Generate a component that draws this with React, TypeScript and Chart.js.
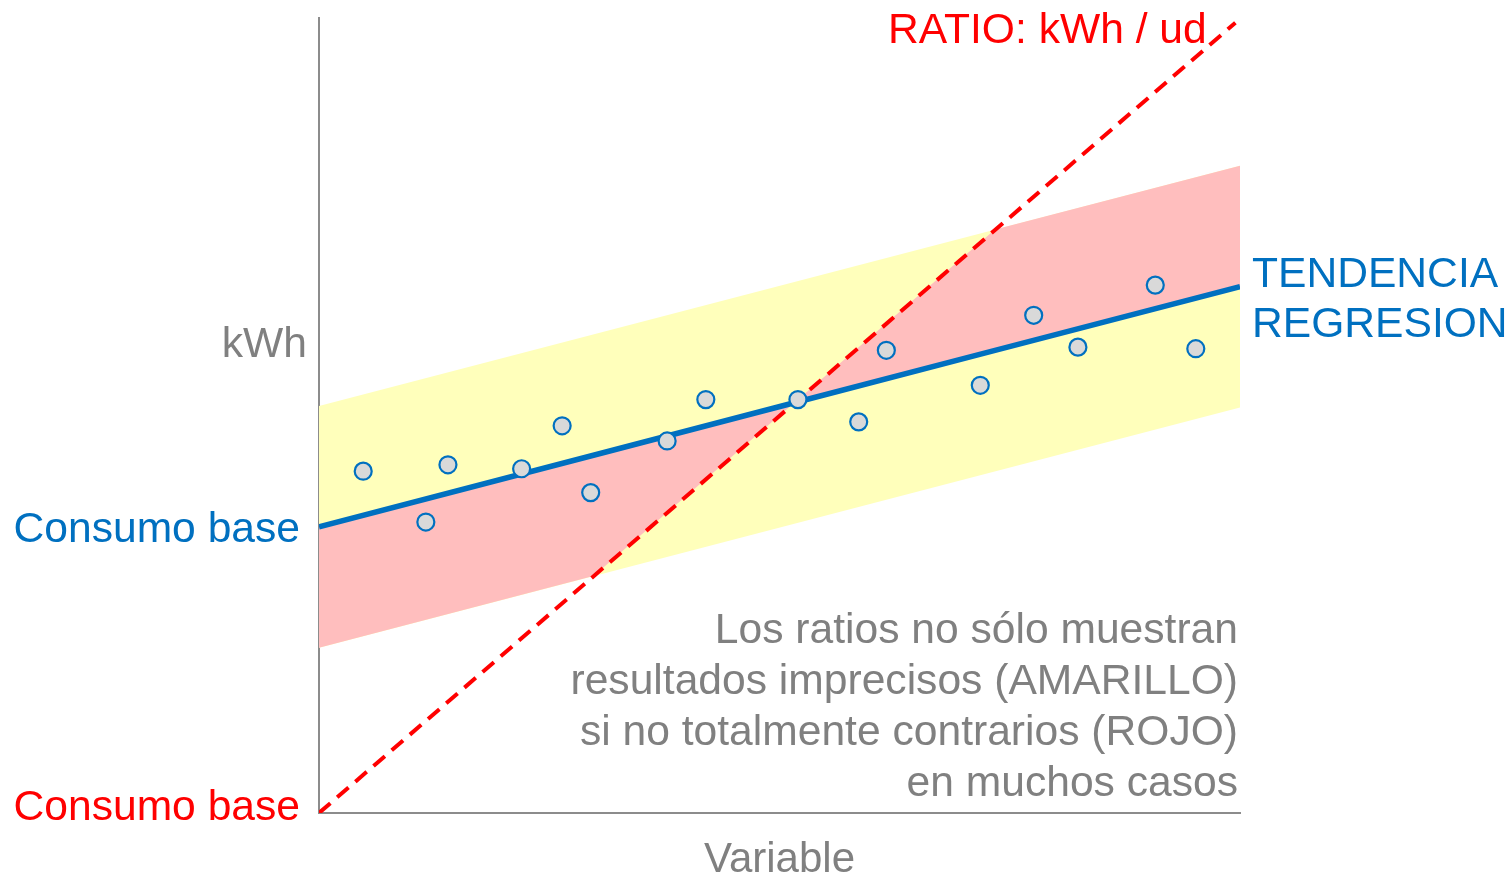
import React, { useEffect, useRef } from 'react';
import { Chart, registerables } from 'chart.js';

Chart.register(...registerables);

// ---- data (abstract units: x 0..100 "Variable", y 0..100 "kWh") ----
const sampleX = [4.8, 11.6, 14.0, 22.0, 26.4, 29.5, 37.8, 42.0, 52.0, 58.6, 61.6, 71.8, 77.6, 82.4, 90.8, 95.2];
const sampleY = [43.0, 36.6, 43.8, 43.3, 48.7, 40.3, 46.8, 52.0, 52.0, 49.2, 58.2, 53.8, 62.6, 58.6, 66.4, 58.4];

const trendX = [0, 29.8, 51.6, 73.4, 100];
const trendY = [36.0, 45.0, 51.6, 58.2, 66.2];
const redEdgeY = [20.8, 29.8, 51.6, 73.4, 81.4];

const bandX = [0, 100];
const bandUpperY = [51.2, 81.4];
const bandLowerY = [20.8, 51.0];

const ratioX = [0, 99.5];
const ratioY = [0, 99.4];

const yAxisLabel = 'kWh';
const xAxisLabel = 'Variable';
const baseLabel = 'Consumo base';
const ratioLabel = 'RATIO: kWh / ud';
const trendLabel = ['TENDENCIA', 'REGRESION'];
const noteLines = [
  'Los ratios no sólo muestran',
  'resultados imprecisos (AMARILLO)',
  'si no totalmente contrarios (ROJO)',
  'en muchos casos',
];

const BLUE = '#0070C0';
const RED = '#FF0000';
const GRAY = '#808080';
const FONT = '"Liberation Sans", Arial, sans-serif';

const pts = (xs: number[], ys: number[]) => xs.map((x, i) => ({ x, y: ys[i] }));

const textPlugin = {
  id: 'annotText',
  afterDraw(chart: any) {
    const { ctx, chartArea } = chart;
    const ys = chart.scales.y;
    const xs = chart.scales.x;
    ctx.save();
    ctx.textBaseline = 'alphabetic';
    ctx.font = `42.6px ${FONT}`;

    // left side labels
    ctx.textAlign = 'right';
    ctx.fillStyle = GRAY;
    ctx.fillText(yAxisLabel, chartArea.left - 12, 357);
    ctx.fillStyle = BLUE;
    ctx.fillText(baseLabel, chartArea.left - 19, ys.getPixelForValue(trendY[0]) + 15);
    ctx.fillStyle = RED;
    ctx.fillText(baseLabel, chartArea.left - 19, ys.getPixelForValue(0) + 7);

    // ratio label
    ctx.textAlign = 'left';
    ctx.fillStyle = RED;
    ctx.fillText(ratioLabel, 888, 43);

    // trend label
    ctx.fillStyle = BLUE;
    trendLabel.forEach((t, i) => ctx.fillText(t, chartArea.right + 12, 287 + i * 50));

    // note
    ctx.textAlign = 'right';
    ctx.fillStyle = GRAY;
    noteLines.forEach((t, i) => ctx.fillText(t, chartArea.right - 2, 643 + i * 51));

    // x axis label
    ctx.textAlign = 'center';
    ctx.font = `42px ${FONT}`;
    ctx.fillText(xAxisLabel, (xs.left + xs.right) / 2, 872);
    ctx.restore();
  },
};

export default function App() {
  const ref = useRef<HTMLCanvasElement | null>(null);

  useEffect(() => {
    if (!ref.current) return;
    const chart = new Chart(ref.current, {
      type: 'line',
      data: {
        datasets: [
          {
            label: 'samples',
            data: pts(sampleX, sampleY),
            showLine: false,
            pointRadius: 8.5,
            pointBorderWidth: 2.2,
            pointBackgroundColor: '#D9D9D9',
            pointBorderColor: BLUE,
            fill: false,
          },
          {
            label: 'ratio',
            data: pts(ratioX, ratioY),
            borderColor: RED,
            borderWidth: 4,
            borderDash: [15, 9],
            pointRadius: 0,
            fill: false,
            tension: 0,
          },
          {
            label: 'trend',
            data: pts(trendX, trendY),
            borderColor: BLUE,
            borderWidth: 5.5,
            pointRadius: 0,
            fill: false,
            tension: 0,
          },
          {
            label: 'redEdge',
            data: pts(trendX, redEdgeY),
            borderColor: 'transparent',
            borderWidth: 0,
            pointRadius: 0,
            backgroundColor: '#FFBEBE',
            fill: 2,
            tension: 0,
          },
          {
            label: 'bandUpper',
            data: pts(bandX, bandUpperY),
            borderColor: 'transparent',
            borderWidth: 0,
            pointRadius: 0,
            backgroundColor: '#FFFFBB',
            fill: 5,
            tension: 0,
          },
          {
            label: 'bandLower',
            data: pts(bandX, bandLowerY),
            borderColor: 'transparent',
            borderWidth: 0,
            pointRadius: 0,
            fill: false,
            tension: 0,
          },
        ],
      },
      options: {
        responsive: false,
        animation: false,
        events: [],
        layout: { padding: { left: 0, top: 18, right: 271, bottom: 0 } },
        plugins: {
          legend: { display: false },
          tooltip: { enabled: false },
          title: { display: false },
        },
        scales: {
          x: {
            type: 'linear',
            min: 0,
            max: 100,
            ticks: { display: false },
            grid: { display: false },
            border: { display: true, color: '#8C8C8C', width: 2 },
            afterFit: (s: any) => {
              s.height = 66;
            },
          },
          y: {
            type: 'linear',
            min: 0,
            max: 100,
            ticks: { display: false },
            grid: { display: false },
            border: { display: true, color: '#8C8C8C', width: 2 },
            afterFit: (s: any) => {
              s.width = 319;
            },
          },
        },
      } as any,
      plugins: [textPlugin],
    });
    return () => chart.destroy();
  }, []);

  return (
    <div style={{ position: 'fixed', left: 0, top: 0, width: 1511, height: 879, background: '#fff' }}>
      <canvas ref={ref} width={1511} height={879} style={{ display: 'block' }} />
    </div>
  );
}
